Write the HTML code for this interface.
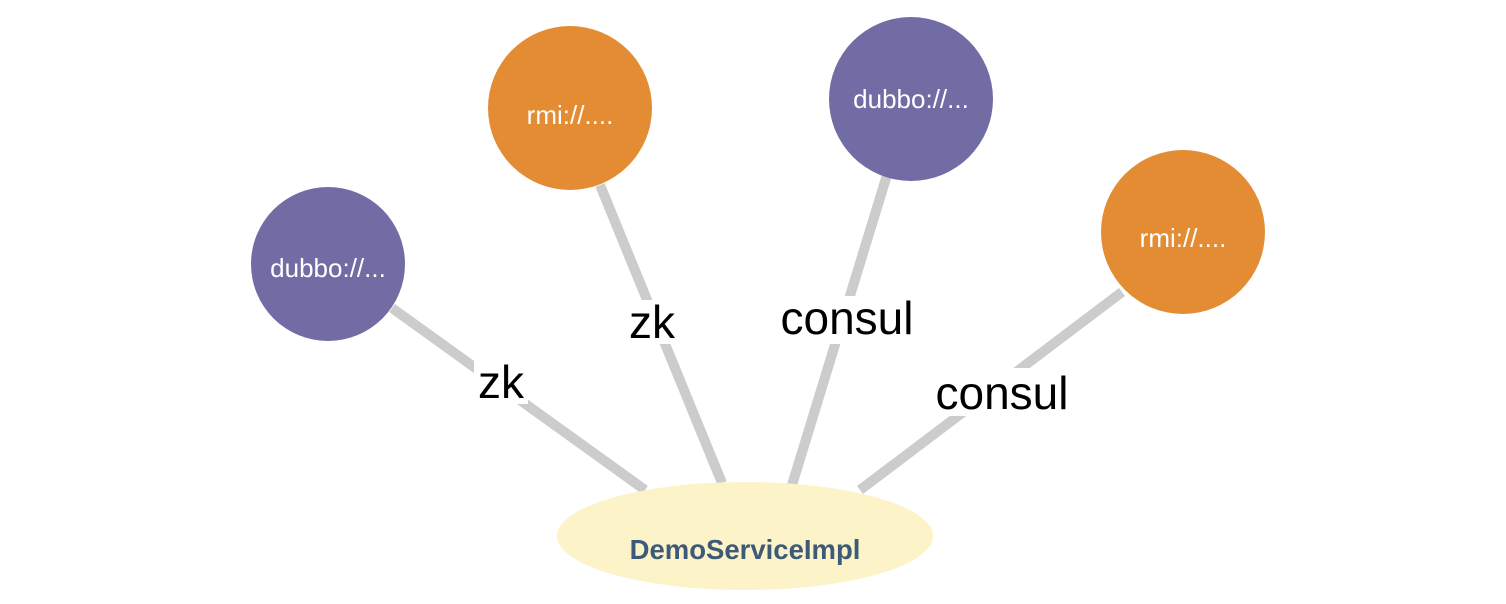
<!DOCTYPE html>
<html><head><meta charset="utf-8"><style>html,body{margin:0;padding:0;background:#fff}svg{display:block}</style></head>
<body>
<svg width="1506" height="604" viewBox="0 0 1506 604" xmlns="http://www.w3.org/2000/svg">
<g stroke="#cccccc" stroke-width="10" fill="none">
<line x1="392" y1="308" x2="645" y2="490"/>
<line x1="600" y1="185" x2="722" y2="483"/>
<line x1="887" y1="175" x2="792" y2="485"/>
<line x1="1122" y1="292" x2="860" y2="490"/>
</g>
<g fill="#fff">
<rect x="474" y="360" width="54" height="44"/>
<rect x="626" y="300" width="54" height="44"/>
<rect x="776" y="296" width="142" height="48"/>
<rect x="930" y="368" width="146" height="48"/>
</g>
<g font-family="Liberation Sans, sans-serif" font-size="46" fill="#000" text-anchor="middle">
<text x="501" y="398">zk</text>
<text x="652" y="338">zk</text>
<text x="847" y="334">consul</text>
<text x="1002" y="409">consul</text>
</g>
<circle cx="328" cy="264" r="77" fill="#716ca3"/>
<circle cx="570" cy="108" r="82" fill="#e38c33"/>
<circle cx="911" cy="99" r="82" fill="#716ca3"/>
<circle cx="1183" cy="232" r="82" fill="#e38c33"/>
<g font-family="Liberation Sans, sans-serif" font-size="26" fill="#fff" text-anchor="middle">
<text x="328" y="277">dubbo://...</text>
<text x="570" y="124">rmi://....</text>
<text x="911" y="108">dubbo://...</text>
<text x="1183" y="247">rmi://....</text>
</g>
<ellipse cx="745" cy="536" rx="188" ry="54" fill="#fcf3c8"/>
<text x="745" y="559" font-family="Liberation Sans, sans-serif" font-size="27.5" font-weight="bold" fill="#3d5a78" text-anchor="middle">DemoServiceImpl</text>
</svg>
</body></html>
